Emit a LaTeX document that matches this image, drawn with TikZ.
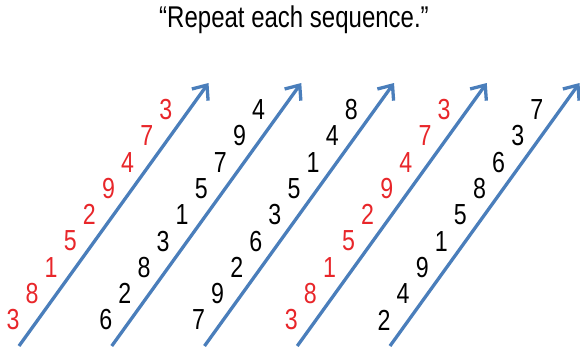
\documentclass[tikz,border=0pt]{standalone}
\usepackage{fontspec}
\setmainfont{Liberation Sans}[FakeStretch=0.8]
\usetikzlibrary{arrows.meta}
\definecolor{seqred}{HTML}{E8262A}
\definecolor{arrowblue}{HTML}{4A7EBB}
\begin{document}
\begin{tikzpicture}[x=1pt,y=-1pt,
  digit/.style={font=\fontsize{29}{29}\selectfont, inner sep=0pt, anchor=center},
  seqarrow/.style={draw=arrowblue, line width=3.3pt,
    -{Straight Barb[length=12pt,width=20pt,line width=3.3pt]}},
  titletext/.style={font=\fontsize{30}{30}\selectfont, inner sep=0pt}]
\useasboundingbox (0,0) rectangle (580,348);
\node[titletext] (title) at (294,20) {“Repeat each sequence.”};
\foreach \i in {0,...,4}{
  \coordinate (t\i) at (19+92.75*\i,346);
  \coordinate (h\i) at (208.5+92.75*\i,83);
  \draw[seqarrow] (t\i) -- (h\i);
}
\foreach \d [count=\j from 0] in {3,8,1,5,2,9,4,7,3}
  \node[digit,text=seqred] (n0-\j) at (13+92.75*0+19.1*\j,320-26.3*\j) {\d};
\foreach \d [count=\j from 0] in {6,2,8,3,1,5,7,9,4}
  \node[digit,text=black] (n1-\j) at (13+92.75*1+19.1*\j,320-26.3*\j) {\d};
\foreach \d [count=\j from 0] in {7,9,2,6,3,5,1,4,8}
  \node[digit,text=black] (n2-\j) at (13+92.75*2+19.1*\j,320-26.3*\j) {\d};
\foreach \d [count=\j from 0] in {3,8,1,5,2,9,4,7,3}
  \node[digit,text=seqred] (n3-\j) at (13+92.75*3+19.1*\j,320-26.3*\j) {\d};
\foreach \d [count=\j from 0] in {2,4,9,1,5,8,6,3,7}
  \node[digit,text=black] (n4-\j) at (13+92.75*4+19.1*\j,320-26.3*\j) {\d};
\end{tikzpicture}
\end{document}
